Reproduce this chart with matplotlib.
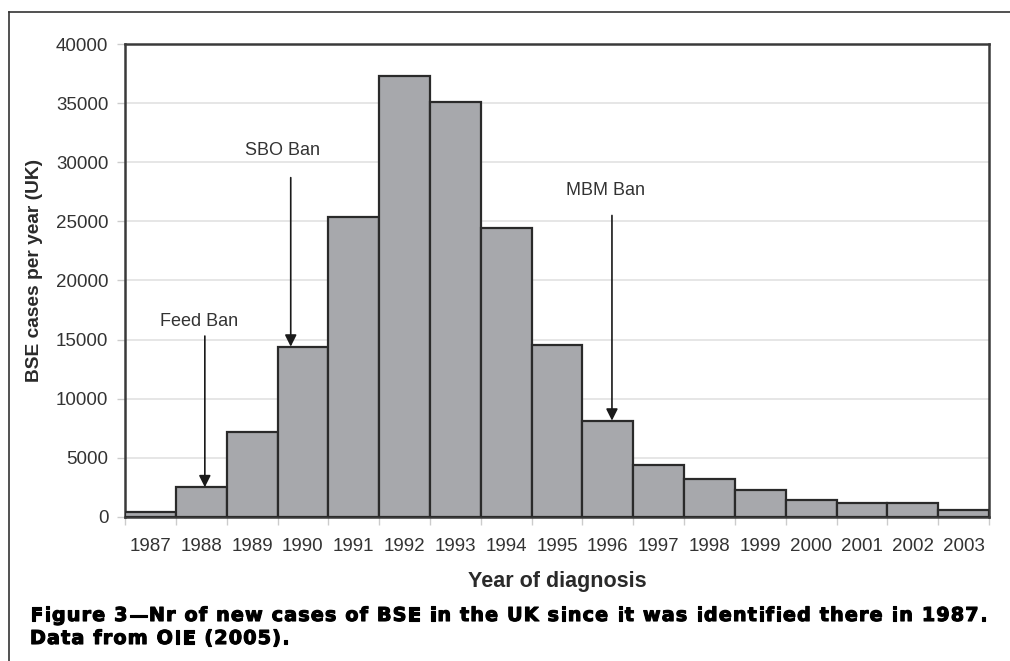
import matplotlib
matplotlib.use('Agg')
import matplotlib.pyplot as plt
import matplotlib.patheffects as pe
from matplotlib.lines import Line2D
from matplotlib.font_manager import FontProperties, findfont, get_font

# BSE cases in the UK per year of diagnosis (OIE 2005)
years = [1987, 1988, 1989, 1990, 1991, 1992, 1993, 1994, 1995,
         1996, 1997, 1998, 1999, 2000, 2001, 2002, 2003]
cases = [446, 2514, 7228, 14407, 25359, 37280, 35090, 24438, 14562,
         8149, 4393, 3235, 2301, 1443, 1202, 1144, 611]

# ban events: label, year, arrow start value, label value, arrow x offset, label x offset
ban_labels = ['Feed Ban', 'SBO Ban', 'MBM Ban']
ban_years = [1988, 1990, 1996]
ban_start = [15300, 28700, 25500]
ban_text_y = [16500, 31000, 27600]
ban_dx = [0.07, -0.24, 0.08]
ban_text_dx = [-0.05, -0.40, -0.04]

caption_lines = ['Figure 3\u2014Nr of new cases of BSE in the UK since it was identified there in 1987.',
                 'Data from OIE (2005).']

plt.rcParams['font.family'] = ['Liberation Sans', 'DejaVu Sans']

fig = plt.figure(figsize=(10.1, 6.61), dpi=100)
ax = fig.add_axes([0.1238, 0.2179, 0.8555, 0.7155])

x = list(range(len(years)))
ax.bar(x, cases, width=1.0, color='#a7a8ac', edgecolor='#2a2a2a',
       linewidth=1.6, zorder=3)

ax.set_xlim(-0.5, len(years) - 0.5)
ax.set_ylim(0, 40000)
ax.set_yticks(range(0, 40001, 5000))
ax.yaxis.grid(True, color='#e2e2e2', linewidth=1.2, zorder=0)
ax.set_axisbelow(True)

# labels centred on bars, ticks at bar boundaries
ax.set_xticks(x)
ax.set_xticklabels([str(y) for y in years])
ax.set_xticks([i - 0.5 for i in range(len(years) + 1)], minor=True)
ax.tick_params(axis='x', which='major', length=0, pad=15,
               labelsize=13.5, labelcolor='#333333')
ax.tick_params(axis='x', which='minor', length=6, color='#cccccc', width=1)
ax.tick_params(axis='y', length=6, color='#cccccc', width=1,
               labelsize=13.5, labelcolor='#333333', pad=6)

for s in ax.spines.values():
    s.set_color('#3a3a3a')
    s.set_linewidth(1.8)

ax.set_ylabel('BSE cases per year (UK)', fontsize=13.8, fontweight='bold',
              color='#2a2a2a')
ax.yaxis.set_label_coords(-0.0955, 0.522)
ax.set_xlabel('Year of diagnosis', fontsize=15.5, fontweight='bold',
              color='#2a2a2a', labelpad=12)

for lab, yr, y0, ty, dx, tdx in zip(ban_labels, ban_years, ban_start,
                                    ban_text_y, ban_dx, ban_text_dx):
    i = years.index(yr)
    ax.annotate('', xy=(i + dx, cases[i]), xytext=(i + dx, y0),
                arrowprops=dict(arrowstyle='-|>,head_length=0.7,head_width=0.35',
                                color='#1a1a1a', lw=1.2, shrinkA=0, shrinkB=0),
                zorder=5)
    ax.text(i + tdx, ty, lab, ha='center', va='center', fontsize=13,
            color='#333333', zorder=5)

# caption: heavy, letter-spaced and justified like the printed figure
cap_size = 13.8
cap_left, cap_right = 30, 987
cap_base = [621, 644]
cap_prop = FontProperties(family='DejaVu Sans', weight='bold', size=cap_size)
ft = get_font(findfont(cap_prop))
ft.set_size(cap_size, 100)


def advances(s):
    return [ft.load_char(ord(c)).linearHoriAdvance / 65536 for c in s]


heavy = [pe.withStroke(linewidth=0.8, foreground='black')]
adv0 = advances(caption_lines[0])
track = (cap_right - cap_left - sum(adv0)) / (len(adv0) - 1)
for line, yp in zip(caption_lines, cap_base):
    xp = cap_left
    for c, a in zip(line, advances(line)):
        if c != ' ':
            fig.text(xp / 1010, 1 - yp / 661, c, fontproperties=cap_prop,
                     color='black', ha='left', va='baseline',
                     path_effects=heavy)
        xp += a + track

# outer frame (top and left edges)
fig.add_artist(Line2D([0.009, 1.0], [0.982, 0.982], color='#333333',
                      lw=1.2, transform=fig.transFigure))
fig.add_artist(Line2D([0.009, 0.009], [0.0, 0.982], color='#333333',
                      lw=1.2, transform=fig.transFigure))

fig.savefig('out.png', dpi=100)
